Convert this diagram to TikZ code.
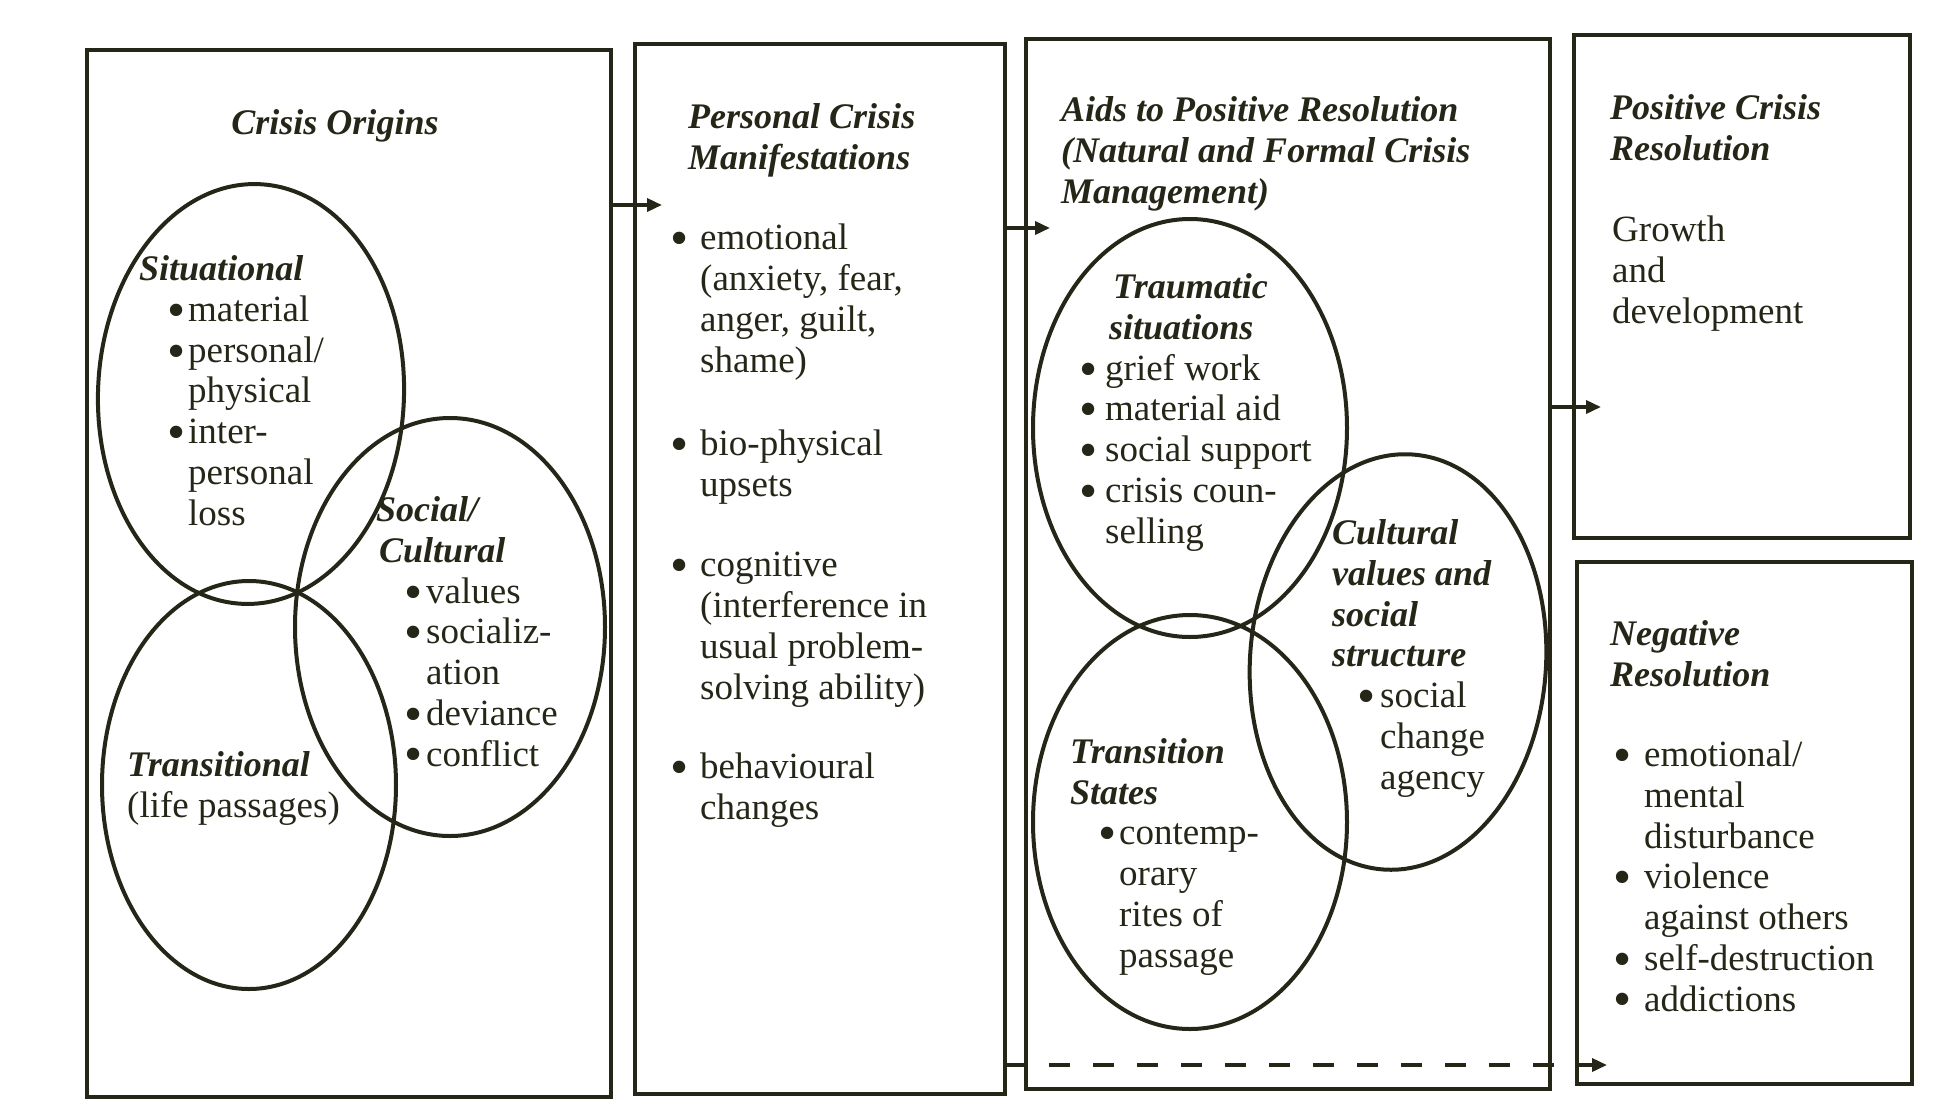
\documentclass[tikz,border=0pt]{standalone}
\usepackage{fontspec}
\setmainfont{Liberation Serif}
\usetikzlibrary{arrows.meta,shapes.geometric}
\definecolor{pInk}{RGB}{38,38,24}
\tikzset{
    panel/.style={draw=pInk, line width=3.5pt, inner sep=0pt, outer sep=0pt},
    ring/.style={ellipse, draw=pInk, line width=4pt, inner sep=0pt},
    txt/.style={inner sep=0pt, anchor=base west, align=left, text=pInk, font=\fontsize{37}{40.7}\selectfont},
    link/.style={draw=pInk, line width=3.5pt, -{Triangle[length=15pt,width=13pt]}}
}
\newcommand{\hd}[1]{{\fontsize{36}{40.7}\selectfont\bfseries\itshape #1}}
\newcommand{\bul}[1]{\makebox[#1][l]{\raisebox{-0.16em}{\scalebox{1.4}{\textbullet}}}}
\newcommand{\ind}[1]{\makebox[#1]{}}

\begin{document}
\begin{tikzpicture}[x=1pt,y=-1pt]
\useasboundingbox (0,0) rectangle (1936,1111);
% panels
\node[panel, minimum width=524pt, minimum height=1047pt] (box1) at (349,573.5) {};
\node[panel, minimum width=370pt, minimum height=1050pt] (box2) at (820,569) {};
\node[panel, minimum width=524pt, minimum height=1050pt] (box3) at (1288,564) {};
\node[panel, minimum width=336pt, minimum height=503pt] (box4) at (1742,286.5) {};
\node[panel, minimum width=335pt, minimum height=522pt] (box5) at (1744.5,823) {};
% arrows between panels
\coordinate (t1) at (662,205);
\coordinate (t2) at (1050,228);
\coordinate (t3) at (1601,407);
\coordinate (t4) at (1607,1065);
\draw[link] (box1.east |- t1) -- (t1);
\draw[link] (box2.east |- t2) -- (t2);
\draw[link] (box3.east |- t3) -- (t3);
\draw[link, dash pattern=on 21pt off 23pt] (box2.east |- t4) -- (t4);
% ellipses
\node[ring, minimum width=306pt, minimum height=420pt, rotate=-2] (esit) at (251,394) {};
\node[ring, minimum width=310pt, minimum height=418pt] (esoc) at (450,627) {};
\node[ring, minimum width=294pt, minimum height=408pt] (etrn) at (249,785) {};
\node[ring, minimum width=314pt, minimum height=418pt] (etrau) at (1190,428) {};
\node[ring, minimum width=296pt, minimum height=416pt, rotate=-4] (ecult) at (1398,662) {};
\node[ring, minimum width=314pt, minimum height=414pt] (etst) at (1190,822) {};
% crisis origins (text nodes sit on the baseline of their last line)
\node[txt, anchor=base] (orig) at (335,134) {\hd{Crisis Origins}};
\node[txt] (sit) at (139,525) {\hd{Situational}\\
  \ind{28pt}\bul{21pt}material\\
  \ind{28pt}\bul{21pt}personal/\\
  \ind{49pt}physical\\
  \ind{28pt}\bul{21pt}inter-\\
  \ind{49pt}personal\\
  \ind{49pt}loss};
\node[txt] (soc) at (376,766) {\hd{Social/}\\
  \ind{3pt}\hd{Cultural}\\
  \ind{28pt}\bul{22pt}values\\
  \ind{28pt}\bul{22pt}socializ-\\
  \ind{50pt}ation\\
  \ind{28pt}\bul{22pt}deviance\\
  \ind{28pt}\bul{22pt}conflict};
\node[txt] (trn) at (127,817) {\hd{Transitional}\\(life passages)};
% manifestations
\node[txt] (man) at (688,169) {\hd{Personal Crisis}\\ \hd{Manifestations}};
\node[txt] (emo) at (670,372) {\bul{30pt}emotional\\ \ind{30pt}(anxiety, fear,\\ \ind{30pt}anger, guilt,\\ \ind{30pt}shame)};
\node[txt] (bio) at (670,496) {\bul{30pt}bio-physical\\ \ind{30pt}upsets};
\node[txt] (cog) at (670,699) {\bul{30pt}cognitive\\ \ind{30pt}(interference in\\ \ind{30pt}usual problem-\\ \ind{30pt}solving ability)};
\node[txt] (beh) at (670,819) {\bul{30pt}behavioural\\ \ind{30pt}changes};
% aids
\node[txt] (aids) at (1061,203) {\hd{Aids to Positive Resolution}\\ \hd{(Natural and Formal Crisis}\\ \hd{Management)}};
\node[txt] (trau) at (1079,543) {\ind{34pt}\hd{Traumatic}\\
  \ind{30pt}\hd{situations}\\
  \bul{26pt}grief work\\
  \bul{26pt}material aid\\
  \bul{26pt}social support\\
  \bul{26pt}crisis coun-\\
  \ind{26pt}selling};
\node[txt] (cult) at (1332,789) {\hd{Cultural}\\
  \hd{values and}\\
  \hd{social}\\
  \hd{structure}\\
  \ind{25pt}\bul{23pt}social\\
  \ind{48pt}change\\
  \ind{48pt}agency};
\node[txt] (tst) at (1070,967) {\hd{Transition}\\
  \hd{States}\\
  \ind{28pt}\bul{21pt}contemp-\\
  \ind{49pt}orary\\
  \ind{49pt}rites of\\
  \ind{49pt}passage};
% resolutions
\node[txt] (posh) at (1610,160) {\hd{Positive Crisis}\\ \hd{Resolution}};
\node[txt] (grow) at (1612,323) {Growth\\ and\\ development};
\node[txt] (negh) at (1610,686) {\hd{Negative}\\ \hd{Resolution}};
\node[txt] (negi) at (1613,1011) {\bul{31pt}emotional/\\
  \ind{31pt}mental\\
  \ind{31pt}disturbance\\
  \bul{31pt}violence\\
  \ind{31pt}against others\\
  \bul{31pt}self-destruction\\
  \bul{31pt}addictions};
\end{tikzpicture}
\end{document}
